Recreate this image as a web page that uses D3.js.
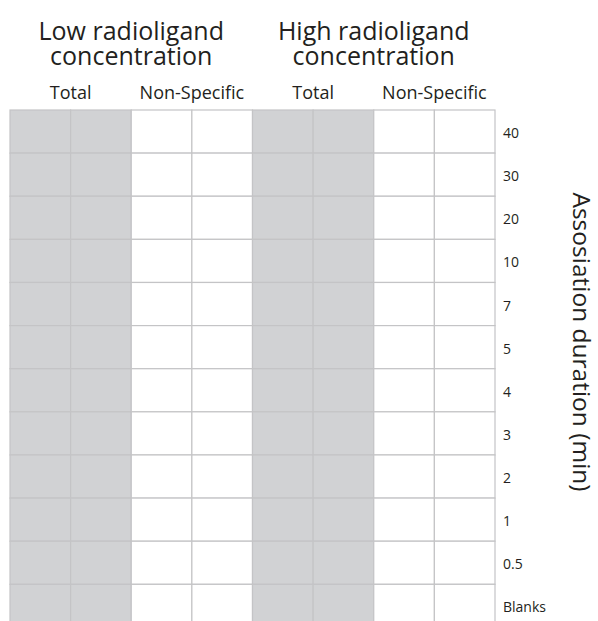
<!DOCTYPE html>
<html lang="en">
	<head>
		<meta charset="utf-8">
		<script type="text/javascript" src="https://d3js.org/d3.v7.min.js"></script>
		<style type="text/css">
			body { margin: 0; background: #fff; }
			svg { display: block; font-family: "Open Sans", sans-serif; }
		</style>
	</head>
	<body>
		<script type="text/javascript">

			// Chart data.
			var groups = ["Low radioligand concentration", "High radioligand concentration"];
			var groupLines = [["Low radioligand", "concentration"], ["High radioligand", "concentration"]];
			var subGroups = ["Total", "Non-Specific"];
			var wellsPerSub = 2;
			var rowLabels = ["40", "30", "20", "10", "7", "5", "4", "3", "2", "1", "0.5", "Blanks"];
			var axisTitle = "Assosiation duration (min)";

			// Width and height.
			var w = 598;
			var h = 621;

			var svg = d3.select("body")
						.append("svg")
						.attr("width", w)
						.attr("height", h);

			// One cell per group / sub group / well.
			var columns = [];
			groups.forEach(function(g, gi) {
				subGroups.forEach(function(s, si) {
					for (var k = 0; k < wellsPerSub; k++) {
						columns.push({group: gi, sub: s, key: gi + "-" + si + "-" + k});
					}
				});
			});

			// Scales for columns and rows.
			var x = d3.scaleBand()
				.domain(columns.map(function(d) { return d.key; }))
				.range([10, 495]);

			var rowH = 43.12;
			var y = d3.scaleBand()
				.domain(rowLabels)
				.range([110, 110 + rowH * rowLabels.length]);

			// Fill for the "Total" wells.
			var fill = d3.scaleOrdinal()
				.domain(subGroups)
				.range(["#d1d2d4", "#ffffff"]);

			var cells = [];
			columns.forEach(function(c) {
				rowLabels.forEach(function(r) {
					cells.push({col: c, row: r});
				});
			});

			svg.append("g")
				.selectAll("rect")
				.data(cells)
				.enter()
				.append("rect")
				.attr("x", function(d) { return x(d.col.key); })
				.attr("y", function(d) { return y(d.row); })
				.attr("width", x.bandwidth())
				.attr("height", y.bandwidth())
				.attr("fill", function(d) { return fill(d.col.sub); })
				.attr("stroke", "#c4c4c6")
				.attr("stroke-width", 1.2);

			// Group titles, centered over their four columns.
			var perGroup = subGroups.length * wellsPerSub;
			var groupCenter = function(gi) {
				var first = columns[gi * perGroup].key;
				var last = columns[gi * perGroup + perGroup - 1].key;
				return (x(first) + x(last) + x.bandwidth()) / 2;
			};

			var titles = svg.append("g")
				.attr("font-size", 25)
				.attr("fill", "#231f20")
				.attr("text-anchor", "middle");

			groupLines.forEach(function(lines, gi) {
				var t = titles.append("text")
					.attr("x", groupCenter(gi))
					.attr("y", 40);
				lines.forEach(function(line, li) {
					t.append("tspan")
						.attr("x", groupCenter(gi))
						.attr("dy", li === 0 ? 0 : 25)
						.text(line);
				});
			});

			// Sub group labels, centered over their two wells.
			var subs = [];
			groups.forEach(function(g, gi) {
				subGroups.forEach(function(s, si) {
					var first = gi + "-" + si + "-0";
					var last = gi + "-" + si + "-" + (wellsPerSub - 1);
					subs.push({label: s, cx: (x(first) + x(last) + x.bandwidth()) / 2});
				});
			});

			svg.append("g")
				.selectAll("text")
				.data(subs)
				.enter()
				.append("text")
				.attr("x", function(d) { return d.cx; })
				.attr("y", 99)
				.attr("font-size", 18)
				.attr("fill", "#231f20")
				.attr("text-anchor", "middle")
				.text(function(d) { return d.label; });

			// Row labels on the right.
			svg.append("g")
				.selectAll("text")
				.data(rowLabels)
				.enter()
				.append("text")
				.attr("x", 503)
				.attr("y", function(d) { return y(d) + y.bandwidth() / 2 + 6.5; })
				.attr("font-size", 14)
				.attr("fill", "#231f20")
				.text(function(d) { return d; });

			// Rotated axis title.
			svg.append("text")
				.attr("transform", "translate(573,342) rotate(90)")
				.attr("font-size", 24.5)
				.attr("fill", "#231f20")
				.attr("text-anchor", "middle")
				.text(axisTitle);

		</script>
	</body>
</html>
